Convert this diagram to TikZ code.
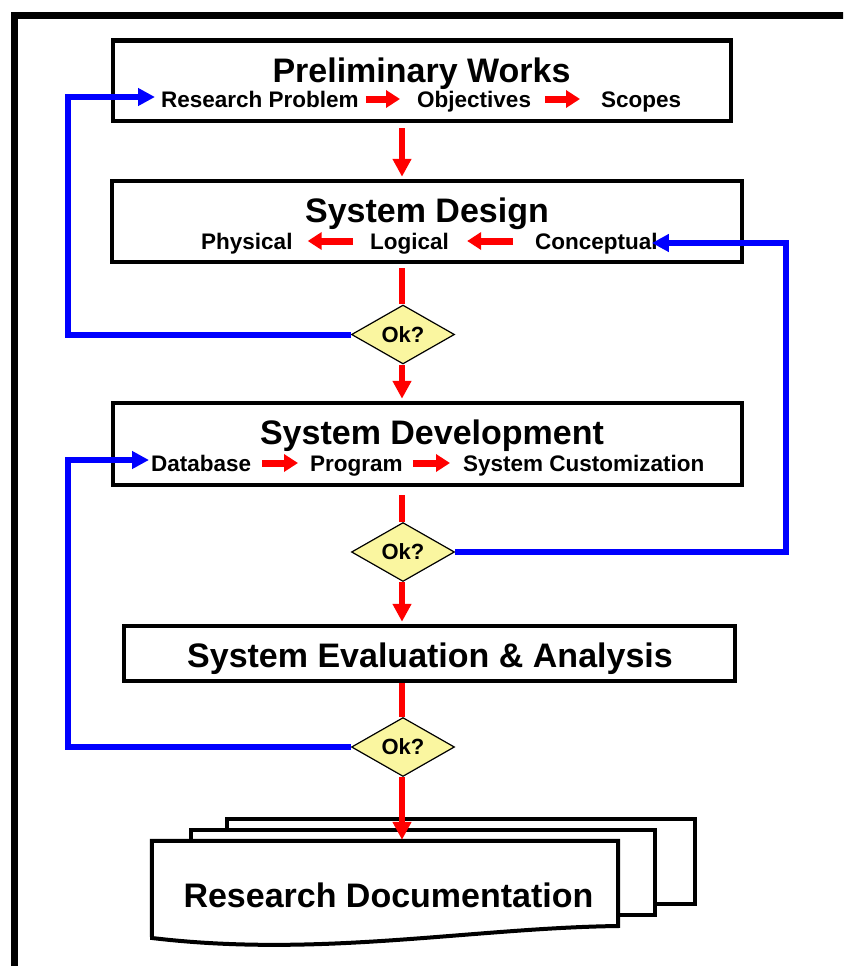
\documentclass[tikz,border=0pt]{standalone}
\usepackage{fontspec}
\setmainfont{Liberation Sans}
\usetikzlibrary{arrows.meta,shapes.geometric}
\definecolor{okfill}{RGB}{250,246,160}
\definecolor{myred}{RGB}{255,0,0}
\definecolor{myblue}{RGB}{0,0,255}
\begin{document}
\begin{tikzpicture}[x=1pt,y=-1pt,
  box/.style={draw=black,line width=4.5pt,fill=white,inner sep=0pt,rectangle},
  titletext/.style={font=\fontsize{34}{40}\selectfont\bfseries,inner sep=0pt,anchor=base},
  subtext/.style={font=\fontsize{22.5}{27}\selectfont\bfseries,inner sep=0pt,anchor=base west},
  okd/.style={diamond,draw=black,line width=1.2pt,fill=okfill,inner sep=0pt,minimum width=103pt,minimum height=52pt,font=\fontsize{22}{26}\selectfont\bfseries},
  flow/.style={draw=myred,line width=6pt},
  flowarr/.style={flow,-{Triangle[length=18pt,width=18pt]}},
  subarr/.style={draw=myred,line width=7pt,-{Triangle[length=14pt,width=17pt]}},
  backarr/.style={draw=myblue,line width=6pt,line join=miter,-{Triangle[length=17pt,width=17pt]}},
  page/.style={draw=black,line width=4pt,fill=white,line join=miter}
]
\useasboundingbox (0,0) rectangle (843,966);
\clip (0,0) rectangle (843,966);
\fill[white] (0,0) rectangle (843,966);
% outer frame
\draw[line width=7pt] (14.5,1000) -- (14.5,15.5) -- (900,15.5);

\coordinate (ax) at (402,0);
\coordinate (lx) at (67.5,0);
\coordinate (rx) at (786,0);

% boxes
\node[box,minimum width=618pt,minimum height=80.5pt] (b1) at (422,80.75) {};
\node[box,minimum width=630pt,minimum height=81pt] (b2) at (427,221.5) {};
\node[box,minimum width=629pt,minimum height=82pt] (b3) at (427.5,444) {};
\node[box,minimum width=611pt,minimum height=55pt] (b4) at (429.5,653.5) {};

% titles
\node[titletext] (t1) at (421.5,82) {Preliminary Works};
\node[titletext] (t2) at (427,222) {System Design};
\node[titletext] (t3) at (432,444) {System Development};
\node[titletext] (t4) at (430,667) {System Evaluation \& Analysis};

% sub items
\node[subtext] (rp) at (161,107) {Research Problem};
\node[subtext] (ob) at (417,107) {Objectives};
\node[subtext] (sc) at (601,107) {Scopes};
\node[subtext] (ph) at (201,249) {Physical};
\node[subtext] (lg) at (370,249) {Logical};
\node[subtext] (cc) at (535,249) {Conceptual};
\node[subtext] (db) at (151,471) {Database};
\node[subtext] (pg) at (310,471) {Program};
\node[subtext] (cu) at (463,471) {System Customization};

% sub arrows
\draw[subarr] ([shift={(7,-8)}]rp.base east) -- ([shift={(-17,-8)}]ob.base west);
\draw[subarr] ([shift={(14,-8)}]ob.base east) -- ([shift={(-21,-8)}]sc.base west);
\draw[subarr] ([shift={(-17,-8)}]lg.base west) -- ([shift={(15,-8)}]ph.base east);
\draw[subarr] ([shift={(-22,-8)}]cc.base west) -- ([shift={(18,-8)}]lg.base east);
\draw[subarr] ([shift={(11,-8)}]db.base east) -- ([shift={(-12,-8)}]pg.base west);
\draw[subarr] ([shift={(10,-8)}]pg.base east) -- ([shift={(-13,-8)}]cu.base west);

% decisions
\node[okd] (d1) at (403,334.5) {Ok?};
\node[okd] (d2) at (403,552) {Ok?};
\node[okd] (d3) at (403,747) {Ok?};

% documents
\node[inner sep=0pt,minimum width=466pt,minimum height=97pt] (doc) at (385,889.5) {};
\draw[page] (227,819) rectangle (695,904);
\draw[page] (191,830) rectangle (655,915);
\draw[page] (doc.north west) -- (doc.north east) -- (618,926)
  .. controls (470,928) and (320,958) .. (152,938) -- cycle;
\node[titletext] (dt) at (388.5,907) {Research Documentation};

% red flow
\draw[flowarr,shorten <=5pt,shorten >=2pt] (b1.south -| ax) -- (b2.north -| ax);
\draw[flow,shorten <=4pt] (b2.south -| ax) -- (d1.north -| ax);
\draw[flowarr,shorten >=2pt] (d1.south -| ax) -- (b3.north -| ax);
\draw[flow,shorten <=8pt] (b3.south -| ax) -- (d2.north -| ax);
\draw[flowarr,shorten >=2pt] (d2.south -| ax) -- (b4.north -| ax);
\draw[flow] (b4.south -| ax) -- (d3.north -| ax);
\draw[flowarr,shorten >=1pt] (d3.south -| ax) -- (doc.north -| ax);

% blue feedback
\draw[backarr] (d1.west) -- (d1.west -| lx) |- ([shift={(-6,-10)}]rp.base west);
\draw[backarr] (d3.west) -- (d3.west -| lx) |- ([shift={(-2,-11)}]db.base west);
\draw[backarr] (d2.east) -- (d2.east -| rx) |- ([shift={(-6,-6)}]cc.base east);
\end{tikzpicture}
\end{document}
